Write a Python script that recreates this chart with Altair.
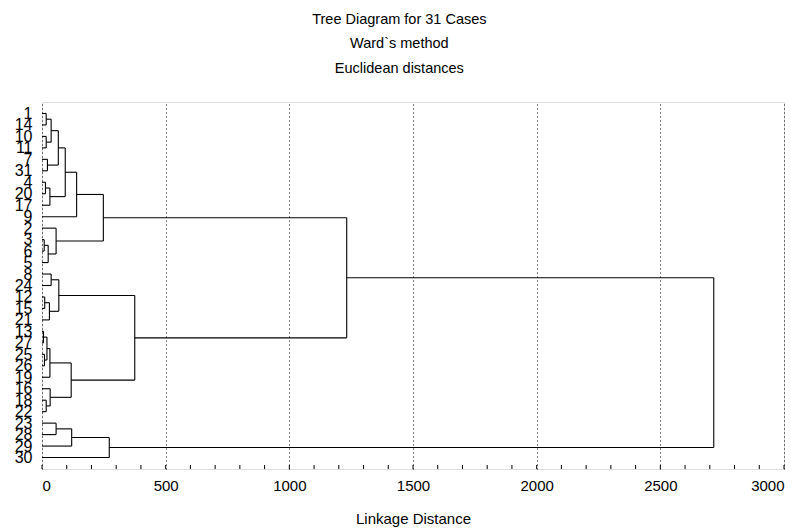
import json
import altair as alt
import pandas as pd

# Leaf order (top to bottom)
leaf_labels = ["1", "14", "10", "11", "7", "31", "4", "20", "17", "9", "2", "3", "6", "5",
               "8", "24", "12", "15", "21", "13", "27", "25", "26", "19", "16", "18", "22",
               "23", "28", "29", "30"]

# Merge steps: strings are case labels, ints refer to earlier merges
merge_left = ["1", "10", 0, "7", 2, "4", 5, 4, 7, "3", 9, "2", 8, "8", "12", 14, 13,
              "13", "25", 17, 19, "18", "16", 20, 16, 12, "23", 26, 27, 25]
merge_right = ["14", "11", 1, "31", 3, "20", "17", 6, "9", "6", "5", 10, 11, "24", "15",
               "21", 15, "27", "26", 18, "19", "22", 21, 22, 23, 24, "28", "29", "30", 28]
merge_height = [17, 17, 37, 22, 66, 14, 32, 94, 140, 9, 25, 57, 248, 37, 11, 30, 68,
                6, 10, 20, 32, 17, 33, 118, 375, 1232, 57, 120, 272, 2716]

x_ticks = [0, 500, 1000, 1500, 2000, 2500, 3000]
minor_ticks = list(range(0, 3001, 100))

title_lines = ["Tree Diagram for 31 Cases", "Ward`s method", "Euclidean distances"]

# ---- build dendrogram segments from the linkage ----
leaf_pos = {lab: (0.0, float(i)) for i, lab in enumerate(leaf_labels)}
merged = []
rows = []


def node(ref):
    return leaf_pos[ref] if isinstance(ref, str) else merged[ref]


for l, r, h in zip(merge_left, merge_right, merge_height):
    hl, yl = node(l)
    hr, yr = node(r)
    rows.append(dict(x=h, x2=h, y=yl, y2=yr))
    rows.append(dict(x=hl, x2=h, y=yl, y2=yl))
    rows.append(dict(x=hr, x2=h, y=yr, y2=yr))
    merged.append((float(h), (yl + yr) / 2.0))

seg = pd.DataFrame(rows)
ticks_df = pd.DataFrame({"t": minor_ticks})

W, H = 742, 367
FONT = "Arial, Liberation Sans, sans-serif"

xscale = alt.Scale(domain=[0, 3000], nice=False, zero=False)
yscale = alt.Scale(domain=[-1, 31], reverse=True, nice=False, zero=False)

x_axis = alt.Axis(values=x_ticks, format="d", title="Linkage Distance", grid=True,
                  gridColor="black", gridDash=[1, 3], gridOpacity=1, ticks=False,
                  domain=False, labelFontSize=15, labelPadding=9, labelColor="black",
                  titleFontSize=15, titleFontWeight="normal", titleColor="black",
                  titlePadding=18, labelFont=FONT, titleFont=FONT)

label_expr = json.dumps(leaf_labels) + "[datum.value]"
y_axis = alt.Axis(values=list(range(len(leaf_labels))), labelExpr=label_expr, title=None,
                  grid=False, ticks=False, domain=False, labelFontSize=16,
                  labelPadding=10, labelOverlap=False, labelColor="black",
                  labelFont=FONT, labelBaseline="middle")

lines = alt.Chart(seg).mark_rule(color="black", strokeWidth=1.1).encode(
    x=alt.X("x:Q", scale=xscale, axis=x_axis),
    x2="x2:Q",
    y=alt.Y("y:Q", scale=yscale, axis=y_axis),
    y2="y2:Q",
)

minor = alt.Chart(ticks_df).mark_rule(color="black", strokeWidth=1).encode(
    x=alt.X("t:Q", scale=xscale, axis=x_axis),
    y=alt.value(H),
    y2=alt.value(H - 4),
)

chart = alt.layer(lines, minor).properties(
    width=W, height=H,
    title=alt.TitleParams(title_lines, fontSize=14.5, fontWeight="normal", font=FONT,
                          lineHeight=24.5, anchor="middle", frame="bounds", offset=26,
                          color="black"),
    padding={"left": 6, "right": 0, "top": 3, "bottom": 2},
).configure_view(stroke="black", strokeWidth=1).configure(background="white")

chart.save("out.html", embed_options={"renderer": "svg", "actions": False})
